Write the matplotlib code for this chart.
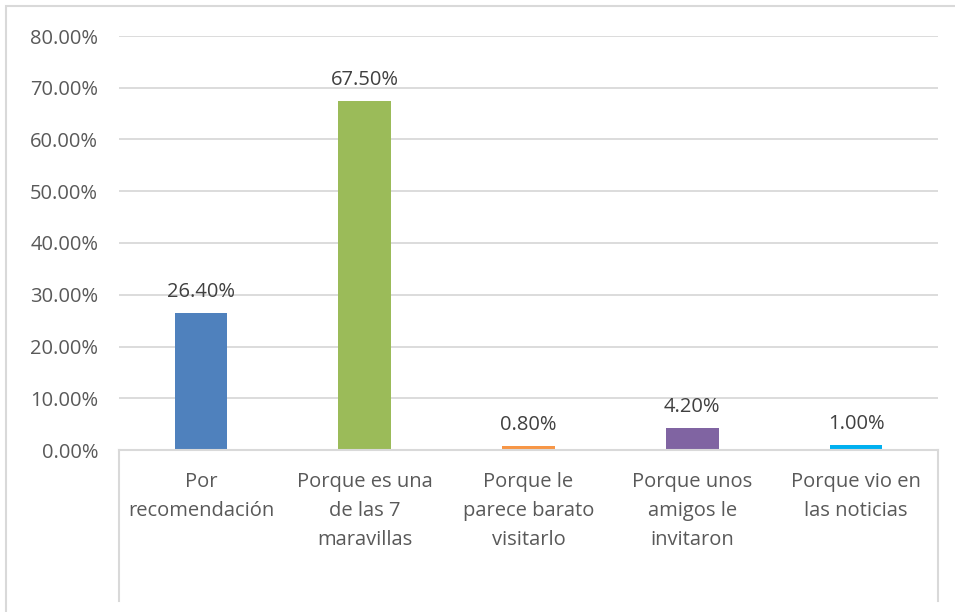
import matplotlib.pyplot as plt
from matplotlib.lines import Line2D
from matplotlib.patches import Rectangle

categories = [
    "Por\nrecomendación",
    "Porque es una\nde las 7\nmaravillas",
    "Porque le\nparece barato\nvisitarlo",
    "Porque unos\namigos le\ninvitaron",
    "Porque vio en\nlas noticias",
]
values = [26.40, 67.50, 0.80, 4.20, 1.00]
colors = ["#4F81BD", "#9BBB59", "#F79646", "#8064A2", "#00B0F0"]
yticks = [0, 10, 20, 30, 40, 50, 60, 70, 80]

W, H = 955, 612
text_color = "#595959"
grid_color = "#D9D9D9"
plt.rcParams["font.family"] = ["Open Sans", "DejaVu Sans"]

fig = plt.figure(figsize=(W / 100, H / 100), dpi=100)
fig.patch.set_facecolor("white")

# outer chart frame (partly cut off at right/bottom)
fig.add_artist(Rectangle((6 / W, -0.1), 1.2, (1 - 6 / H) + 0.1,
                         transform=fig.transFigure, fill=False,
                         edgecolor="#D9D9D9", linewidth=1.5))

x0, x1, y0, y1 = 119, 938, 450, 36
ax = fig.add_axes([x0 / W, 1 - y0 / H, (x1 - x0) / W, (y0 - y1) / H])

xs = list(range(len(categories)))
ax.bar(xs, values, width=0.32, color=colors, zorder=3)
ax.set_xlim(-0.5, len(categories) - 0.5)
ax.set_ylim(0, 80)
ax.set_yticks(yticks)
ax.set_yticklabels([f"{v:.2f}%" for v in yticks], color=text_color, fontsize=14.5)
ax.tick_params(axis="y", length=0, pad=15)
ax.set_xticks([])
ax.grid(axis="y", color=grid_color, linewidth=1.3, zorder=0)
for s in ["top", "right", "left"]:
    ax.spines[s].set_visible(False)
ax.spines["bottom"].set_color(grid_color)
ax.spines["bottom"].set_linewidth(1.5)
ax.spines["bottom"].set_zorder(4)

for x, v in zip(xs, values):
    ax.annotate(f"{v:.2f}%", (x, v), xytext=(0, 8), textcoords="offset points",
                ha="center", va="bottom", color="#404040", fontsize=14.5)

for x, lab in zip(xs, categories):
    ax.annotate(lab, (x, 0), xytext=(0, -16), textcoords="offset points",
                ha="center", va="top", color=text_color, fontsize=14.5,
                linespacing=1.6, annotation_clip=False)

# category area box sides
for xp in (x0, x1):
    fig.add_artist(Line2D([xp / W, xp / W], [1 - y0 / H, 1 - 601 / H],
                          transform=fig.transFigure, color=grid_color,
                          linewidth=1.5))

fig.savefig("out.png", dpi=100)
